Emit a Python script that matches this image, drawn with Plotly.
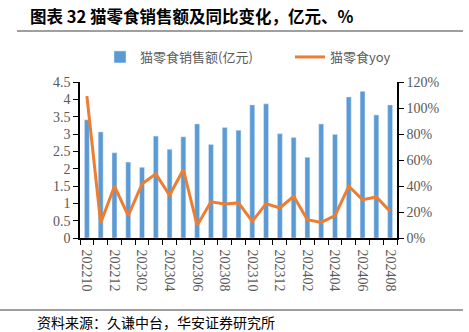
import plotly.graph_objects as go

months = ["202210", "202211", "202212", "202301", "202302", "202303", "202304", "202305",
          "202306", "202307", "202308", "202309", "202310", "202311", "202312", "202401",
          "202402", "202403", "202404", "202405", "202406", "202407", "202408"]
sales = [3.41, 3.06, 2.46, 2.19, 2.04, 2.94, 2.56, 2.92, 3.29, 2.70, 3.19, 3.11,
         3.84, 3.87, 3.01, 2.90, 2.33, 3.29, 2.99, 4.07, 4.23, 3.55, 3.84]
yoy = [109.2, 11.6, 39.8, 17.2, 41.6, 49.3, 32.9, 52.7, 9.7, 27.8, 26.2, 27.0,
       12.8, 26.4, 23.1, 32.1, 14.1, 12.0, 17.2, 39.8, 29.5, 31.6, 20.5]
bar_name = "猫零食销售额(亿元)"
line_name = "猫零食yoy"
title_text = "图表 32 猫零食销售额及同比变化，亿元、%"
source_text = "资料来源：久谦中台，华安证券研究所"

idx = list(range(len(months)))

W, H = 469, 332
L, R, T, B = 80, 72, 82, 94
pw, ph = W - L - R, H - T - B


def px_x(px):
    return (px - L) / pw


def px_y(py):
    return (H - B - py) / ph


serif = "Liberation Serif, Times New Roman, serif"
cjk = "Noto Sans CJK SC, sans-serif"
gray = "#595959"

fig = go.Figure()
fig.add_trace(go.Bar(x=idx, y=sales, name=bar_name, marker_color="#5B9BD5",
                     width=0.36, yaxis="y", legendwidth=145))
fig.add_trace(go.Scatter(x=idx, y=yoy, name=line_name, mode="lines",
                         line=dict(color="#ED7D31", width=3), yaxis="y2"))

fig.update_layout(
    width=W, height=H,
    margin=dict(l=L, r=R, t=T, b=B),
    paper_bgcolor="white", plot_bgcolor="white",
    showlegend=True,
    legend=dict(orientation="h", x=px_x(100), xanchor="left", y=px_y(42), yanchor="top",
                font=dict(family=cjk, size=13, color=gray), bgcolor="rgba(0,0,0,0)",
                itemwidth=30, traceorder="normal"),
    xaxis=dict(range=[-0.5, len(months) - 0.5], tickmode="array",
               tickvals=idx[::2], ticktext=months[::2], tickangle=90,
               ticks="outside", ticklen=7, tickcolor="rgba(0,0,0,0)",
               showline=True, linecolor="black", linewidth=1.5, showgrid=False,
               zeroline=False,
               tickfont=dict(family=serif, size=14, color=gray),
               minor=dict(tickmode="array", tickvals=[i - 0.5 for i in idx] + [len(months) - 0.5],
                          ticks="outside", ticklen=5, tickcolor="black", tickwidth=1.2,
                          showgrid=False)),
    yaxis=dict(range=[0, 4.5], dtick=0.5, tick0=0, showline=True, linecolor="black",
               linewidth=1.5, ticks="outside", ticklen=5, tickcolor="black",
               showgrid=False, zeroline=False,
               tickfont=dict(family=serif, size=14, color=gray)),
    yaxis2=dict(range=[0, 120], dtick=20, tick0=0, ticksuffix="%", overlaying="y",
                side="right", showline=True, linecolor="black", linewidth=1.5,
                ticks="outside", ticklen=5, tickcolor="black", showgrid=False,
                zeroline=False, tickfont=dict(family=serif, size=14, color=gray)),
    bargap=0.6,
)

fig.add_annotation(text="<b>" + title_text + "</b>", xref="paper", yref="paper",
                   x=px_x(28), y=px_y(16), xanchor="left", yanchor="middle",
                   showarrow=False, font=dict(family=cjk, size=16.5, color="black"))
fig.add_annotation(text=source_text, xref="paper", yref="paper",
                   x=px_x(35), y=px_y(322), xanchor="left", yanchor="middle",
                   showarrow=False, font=dict(family=cjk, size=14, color="black"))

fig.add_shape(type="line", xref="paper", yref="paper",
              x0=px_x(17), x1=px_x(463), y0=px_y(31), y1=px_y(31),
              line=dict(color="#404040", width=1.2))
fig.add_shape(type="line", xref="paper", yref="paper",
              x0=px_x(0), x1=px_x(463), y0=px_y(310), y1=px_y(310),
              line=dict(color="#404040", width=1.2))

fig.write_html("out.html")
